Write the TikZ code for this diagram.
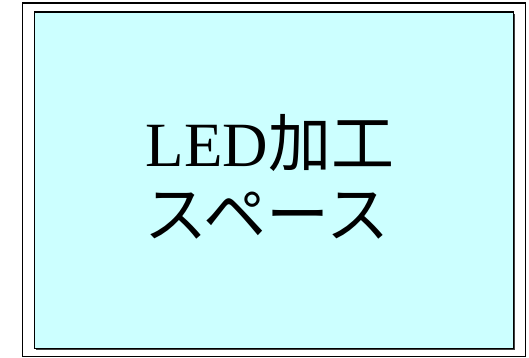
\documentclass[tikz,border=0pt]{standalone}
\usepackage{fontspec}
\setmainfont{Liberation Serif}
\newfontfamily\jpfont{Noto Sans CJK JP}
\definecolor{boxfill}{HTML}{CCFFFF}
\begin{document}
\begin{tikzpicture}[x=1pt,y=-1pt,
  outerbox/.style={draw=black,line width=1.5pt},
  innerbox/.style={draw=black,line width=1.8pt,fill=boxfill},
  label/.style={font=\fontsize{63}{63}\selectfont,inner sep=0pt,anchor=base}]
\useasboundingbox (0,0) rectangle (529,358);
\fill[white] (0,0) rectangle (529,358);
\node[outerbox,minimum width=503,minimum height=353,anchor=north west,inner sep=0pt] (outer) at (21.5,2.5) {};
\fill[black!75] (36,14) rectangle (514.5,349.5);
\node[innerbox,minimum width=479,minimum height=336,anchor=north west,inner sep=0pt] (inner) at (33.5,11.5) {};
\node[label] (l1) at (270,166) {LED{\jpfont 加工}};
\node[label] (l2) at (267,237) {\jpfont スペース};
\end{tikzpicture}
\end{document}
